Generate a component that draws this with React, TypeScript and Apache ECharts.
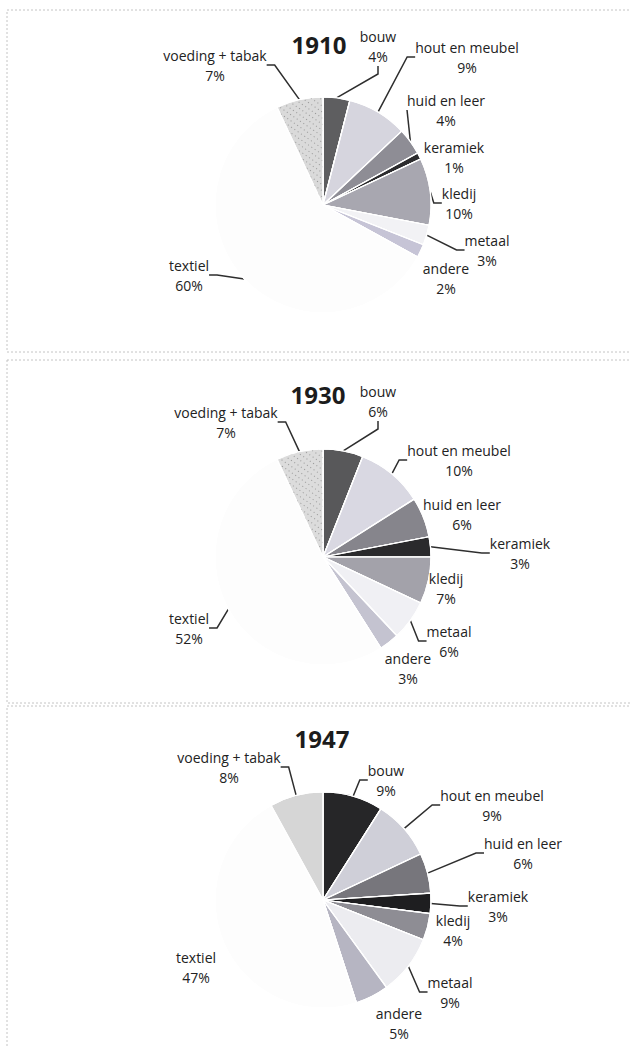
import React, { useEffect, useRef } from "react";
import * as echarts from "echarts";

// ---- data ----
const categories = [
  "bouw",
  "hout en meubel",
  "huid en leer",
  "keramiek",
  "kledij",
  "metaal",
  "andere",
  "textiel",
  "voeding + tabak",
];
const years = ["1910", "1930", "1947"];
const values1910 = [4, 9, 4, 1, 10, 3, 2, 60, 7];
const values1930 = [6, 10, 6, 3, 7, 6, 3, 52, 7];
const values1947 = [9, 9, 6, 3, 4, 9, 5, 47, 8];
const allValues = [values1910, values1930, values1947];

// ---- layout / style (kept apart from the data) ----
const panelLayout = [
  {
    center: [323, 205],
    title: [319, 44],
    box: [7, 10, 660, 342],
    labels: [
      [378, 46], [467, 57], [446, 110], [454, 157], [459, 203],
      [487, 250], [446, 278], [189, 275], [215, 65],
    ],
    lines: [1, 1, 1, 0, 1, 1, 0, 1, 1],
    colors: ["#5e5e60", "#d6d5de", "#8e8d95", "#2c2c2e", "#a8a7b0", "#f2f2f5", "#c6c4d6", "#fdfdfd", "#dadada"],
    stipple: true,
  },
  {
    center: [323, 557],
    title: [318, 394],
    box: [7, 360, 660, 343],
    labels: [
      [378, 401], [459, 460], [462, 514], [520, 553], [446, 588],
      [449, 641], [408, 668], [189, 628], [226, 422],
    ],
    lines: [1, 1, 0, 1, 0, 1, 0, 1, 1],
    colors: ["#58585a", "#d9d8e2", "#86858c", "#2a2a2c", "#a3a2aa", "#f0f0f4", "#c4c3d0", "#fdfdfd", "#dcdcdc"],
    stipple: true,
  },
  {
    center: [323, 900],
    title: [322, 738],
    box: [7, 706, 660, 360],
    labels: [
      [386, 780], [492, 805], [523, 853], [498, 906], [453, 930],
      [450, 992], [399, 1023], [196, 967], [229, 767],
    ],
    lines: [1, 1, 1, 1, 0, 1, 0, 0, 1],
    colors: ["#262628", "#cfcfd8", "#77767c", "#1e1e20", "#8e8d94", "#ececf0", "#b6b5c2", "#fdfdfd", "#d6d6d6"],
    stipple: false,
  },
];

const FONT = '"Open Sans", "DejaVu Sans", sans-serif';

export default function App() {
  const ref = useRef<HTMLDivElement>(null);

  useEffect(() => {
    if (!ref.current) return;
    const chart = echarts.init(ref.current, undefined, { renderer: "svg" });

    const series = years.map((year, si) => {
      const lay = panelLayout[si];
      return {
        type: "pie",
        name: year,
        center: lay.center,
        radius: 108,
        startAngle: 90,
        clockwise: true,
        avoidLabelOverlap: false,
        itemStyle: { borderColor: "#ffffff", borderWidth: 1.2 },
        label: {
          show: true,
          position: "outside",
          formatter: (p: any) => `${p.name}\n${p.value}%`,
          fontFamily: FONT,
          fontSize: 14,
          lineHeight: 20,
          color: "#222222",
          align: "center",
        },
        labelLine: {
          show: true,
          length: 10,
          length2: 8,
          lineStyle: { color: "#2e2e2e", width: 1.5 },
        },
        labelLayout: (params: any) => {
          const p = lay.labels[params.dataIndex];
          return { x: p[0], y: p[1], align: "center", verticalAlign: "middle" };
        },
        emphasis: { disabled: true },
        data: categories.map((name, i) => {
          const stippled = lay.stipple && name === "voeding + tabak";
          return {
            name,
            value: allValues[si][i],
            itemStyle: {
              color: lay.colors[i],
              decal: stippled
                ? {
                    symbol: "rect",
                    symbolSize: 1,
                    color: "rgba(70,70,70,0.45)",
                    dashArrayX: [1, 3],
                    dashArrayY: [1, 4],
                    rotation: 0.6,
                  }
                : { symbol: "none" },
            },
            labelLine: { show: !!lay.lines[i] },
          };
        }),
      };
    });

    const graphics: any[] = [];
    panelLayout.forEach((lay, si) => {
      graphics.push({
        type: "rect",
        silent: true,
        shape: { x: lay.box[0], y: lay.box[1], width: lay.box[2], height: lay.box[3] },
        style: { fill: "none", stroke: "#c4c4c4", lineWidth: 1, lineDash: [2, 2] },
        z: -1,
      });
      graphics.push({
        type: "text",
        silent: true,
        x: lay.title[0],
        y: lay.title[1],
        style: {
          text: years[si],
          font: `bold 24px ${FONT}`,
          fill: "#1c1c1c",
          align: "center",
          verticalAlign: "middle",
        },
      });
    });

    chart.setOption({
      animation: false,
      backgroundColor: "#ffffff",
      aria: { enabled: true, decal: { show: true } },
      graphic: graphics,
      series,
    });

    return () => chart.dispose();
  }, []);

  return (
    <div
      ref={ref}
      style={{ position: "absolute", left: 0, top: 0, width: 630, height: 1048 }}
    />
  );
}
